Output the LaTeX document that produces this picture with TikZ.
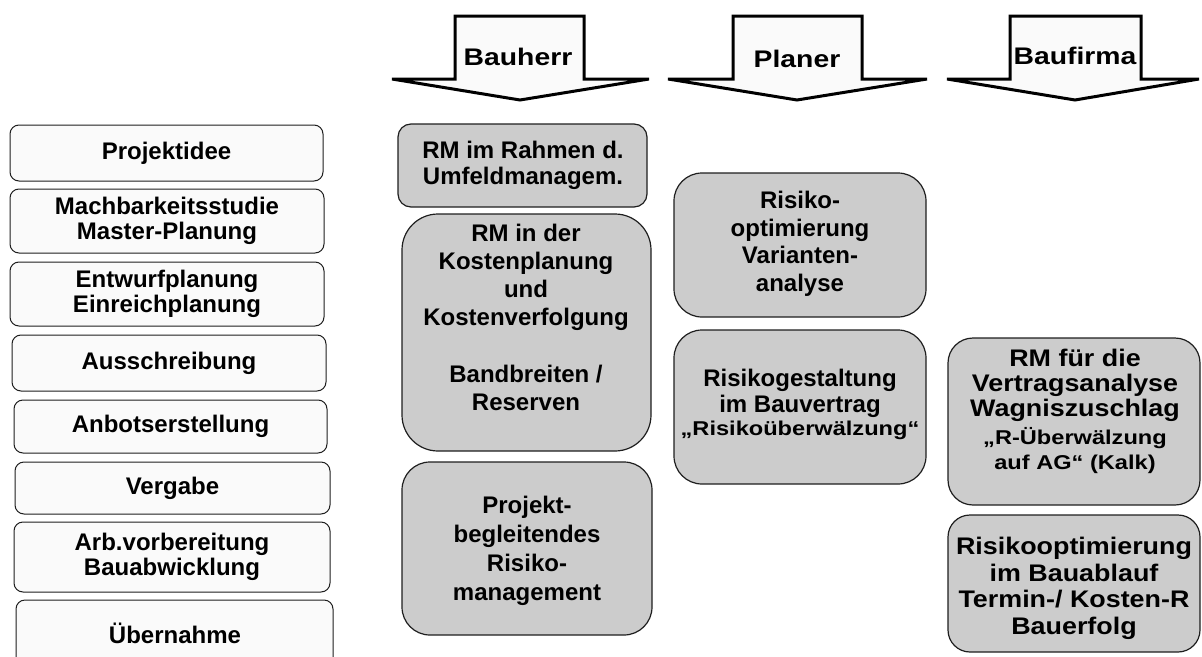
\documentclass[tikz,border=0pt]{standalone}
\usepackage{fontspec}
\setmainfont{Liberation Sans}
\newfontfamily\fnB[FakeStretch=1.18]{Liberation Sans}
\newfontfamily\fnC[FakeStretch=1.12]{Liberation Sans}
\usetikzlibrary{fit}
\definecolor{boxgray}{RGB}{204,204,204}
\definecolor{light}{RGB}{250,250,250}
\definecolor{edge}{RGB}{30,30,30}
\begin{document}
\begin{tikzpicture}[x=1pt,y=-1pt,
 phase/.style={draw=edge, line width=1pt, fill=light, rounded corners=9pt, inner sep=0pt},
 gbox/.style={draw=edge, line width=1.2pt, fill=boxgray, inner sep=0pt},
 ptxt/.style={font=\bfseries\fontsize{24}{25}\selectfont, align=center, inner sep=0pt},
 gtxt/.style={font=\bfseries\fontsize{24}{27.5}\selectfont, align=center, inner sep=0pt, anchor=north},
 wtxt/.style={font=\fnC\bfseries\fontsize{24}{26.5}\selectfont, align=center, inner sep=0pt, anchor=north},
 harrow/.style={draw=black, line width=3pt, fill=light, line join=miter},
 htxt/.style={font=\fnB\bfseries\fontsize{24}{26}\selectfont, inner sep=0pt}
]
\useasboundingbox (0,0) rectangle (1202,656);
\clip (0,0) rectangle (1202,656);

% heading arrows
\draw[harrow] (455,16) -- (584,16) -- (584,79) -- (649,79) -- (520,100) -- (392,79) -- (455,79) -- cycle;
\node[htxt] (bauherr) at (518,57) {Bauherr};
\draw[harrow] (733,16) -- (862,16) -- (862,79) -- (927,79) -- (797,100) -- (668,79) -- (733,79) -- cycle;
\node[htxt] (planer) at (797,59) {Planer};
\draw[harrow] (1010,16) -- (1141,16) -- (1141,79) -- (1199,79) -- (1075,100) -- (947,79) -- (1010,79) -- cycle;
\node[htxt] (baufirma) at (1075,56) {Baufirma};

% phases
\node[phase, fit={(10,125) (323,181)}] (p1) {};
\node[ptxt] (p1t) at (p1.center) {Projektidee};
\node[phase, fit={(10,189) (324,253)}] (p2) {};
\node[ptxt] (p2t) at (p2.center) {Machbarkeitsstudie\\Master-Planung};
\node[phase, fit={(10,262) (324,326)}] (p3) {};
\node[ptxt] (p3t) at (p3.center) {Entwurfplanung\\Einreichplanung};
\node[phase, fit={(12,335) (326,391)}] (p4) {};
\node[ptxt] (p4t) at (p4.center) {Ausschreibung};
\node[phase, fit={(14,400) (327,453)}] (p5) {};
\node[ptxt] (p5t) at (p5.center) {Anbotserstellung};
\node[phase, fit={(15,462) (330,514)}] (p6) {};
\node[ptxt] (p6t) at (p6.center) {Vergabe};
\node[phase, fit={(14,522) (330,592)}] (p7) {};
\node[ptxt] (p7t) at (p7.center) {Arb.vorbereitung\\Bauabwicklung};
\node[phase, fit={(16,600) (333,672)}] (p8) {};
\node[ptxt] (p8t) at (175,633) {Übernahme};

% Bauherr
\node[gbox, rounded corners=13pt, fit={(398,124) (647,207)}] (bh1) {};
\node[gtxt, font=\bfseries\fontsize{24}{26}\selectfont] (bh1t) at (523,141) {RM im Rahmen d.\\Umfeldmanagem.};
\node[gbox, rounded corners=36pt, fit={(402,214) (651,451)}] (bh2) {};
\node[gtxt, font=\bfseries\fontsize{24}{28}\selectfont] (bh2t) at (526,224) {RM in der\\Kostenplanung\\und\\Kostenverfolgung\\[29pt]Bandbreiten /\\Reserven};
\node[gbox, rounded corners=28pt, fit={(402,462) (652,635)}] (bh3) {};
\node[gtxt, font=\bfseries\fontsize{24}{29}\selectfont] (bh3t) at (527,496) {Projekt-\\begleitendes\\Risiko-\\management};

% Planer
\node[gbox, rounded corners=28pt, fit={(674,173) (926,317)}] (pl1) {};
\node[gtxt] (pl1t) at (800,191) {Risiko-\\optimierung\\Varianten-\\analyse};
\node[gbox, rounded corners=28pt, fit={(674,330) (926,484)}] (pl2) {};
\node[gtxt, font=\bfseries\fontsize{24}{26}\selectfont] (pl2t) at (800,369) {Risikogestaltung\\im Bauvertrag\\[-3pt]{\fnB\fontsize{20}{24}\selectfont „Risikoüberwälzung“}};

% Baufirma
\node[gbox, rounded corners=25pt, fit={(948,338) (1200,505)}] (bf1) {};
\node[wtxt, font=\fnC\bfseries\fontsize{24}{25}\selectfont] (bf1t) at (1075,349) {RM für die\\Vertragsanalyse\\Wagniszuschlag\\[3pt]{\fnB\fontsize{20}{25}\selectfont „R-Überwälzung}\\{\fnB\fontsize{20}{25}\selectfont auf AG“ (Kalk)}};
\node[gbox, rounded corners=22pt, fit={(948,515) (1200,652)}] (bf2) {};
\node[wtxt] (bf2t) at (1074,537) {Risikooptimierung\\im Bauablauf\\Termin-/ Kosten-R\\Bauerfolg};
\end{tikzpicture}
\end{document}
